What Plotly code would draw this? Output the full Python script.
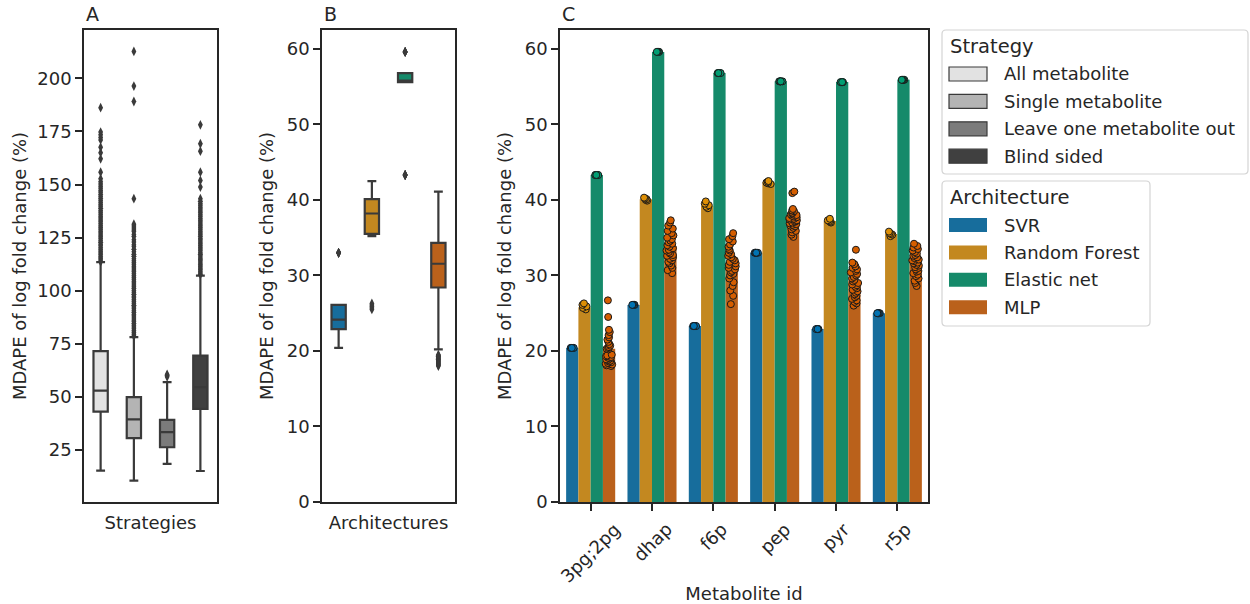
import plotly.graph_objects as go

# ---------------- data ----------------
strategies = ["All metabolite", "Single metabolite", "Leave one metabolite out", "Blind sided"]
strategy_colors = ["#E2E2E2", "#B4B4B4", "#7B7B7B", "#404040"]
strat_q1 = [43.0, 30.5, 26.2, 44.3]
strat_median = [52.9, 39.3, 33.3, 54.5]
strat_q3 = [71.5, 49.8, 39.1, 69.4]
strat_lowfence = [15.2, 10.5, 18.4, 15.0]
strat_highfence = [113.4, 78.1, 56.9, 107.1]
outliers_all = [113.6, 114.4, 115.2, 116.0, 116.9, 117.7, 118.5, 119.4, 120.2, 121.1, 121.9,
                122.8, 123.6, 124.5, 125.4, 126.2, 127.1, 128.0, 128.9, 129.7, 130.6, 131.5,
                132.4, 133.3, 134.2, 135.1, 136.0, 136.9, 137.8, 138.8, 139.7, 140.6, 141.5,
                142.5, 143.4, 144.4, 145.3, 146.3, 147.2, 148.2, 149.2, 150.2, 151.3, 152.7,
                155.8, 162.1, 165.0, 167.6, 171.0, 172.2, 173.4, 174.7, 186.2]
outliers_single = [78.6, 79.4, 80.3, 81.1, 82.0, 82.8, 83.7, 84.5, 85.4, 86.2, 87.1, 88.0,
                   88.8, 89.7, 90.5, 91.4, 92.3, 93.1, 94.0, 94.9, 95.7, 96.6, 97.4, 98.3,
                   99.2, 100.1, 101.0, 101.8, 102.7, 103.6, 104.4, 105.3, 106.2, 107.0, 108.0,
                   108.9, 109.7, 110.6, 111.5, 112.4, 113.2, 114.1, 115.0, 116.2, 117.1, 118.3,
                   119.5, 120.8, 121.6, 122.9, 124.0, 125.5, 126.4, 127.8, 128.6, 129.5, 130.4,
                   131.3, 143.3, 189.1, 196.4, 212.7]
outliers_loo = [59.4, 60.0, 60.5]
outliers_blind = [107.6, 108.3, 109.1, 109.9, 110.6, 111.5, 112.2, 113.0, 113.9, 114.7, 115.4,
                  116.3, 117.1, 117.9, 118.8, 119.6, 120.4, 121.3, 122.1, 122.9, 123.8, 124.6,
                  125.5, 126.3, 127.2, 128.0, 128.9, 129.7, 130.6, 131.4, 132.3, 133.2, 134.0,
                  134.9, 135.8, 136.7, 137.5, 138.4, 139.3, 140.2, 141.0, 142.1, 143.3, 148.8,
                  151.9, 155.8, 165.7, 169.2, 178.1]
strategy_outliers = [outliers_all, outliers_single, outliers_loo, outliers_blind]

metabolites = ["3pg;2pg", "dhap", "f6p", "pep", "pyr", "r5p"]
architectures = ["SVR", "Random Forest", "Elastic net", "MLP"]
bar_colors = ["#176D9C", "#C38820", "#158A6A", "#BA611B"]
point_colors = ["#0173B2", "#DE8F05", "#029E73", "#D55E00"]

svr_bar = [20.4, 26.1, 23.3, 33.0, 22.9, 25.0]
rf_bar = [25.8, 40.1, 39.2, 42.3, 37.2, 35.5]
en_bar = [43.3, 59.6, 56.8, 55.7, 55.6, 55.9]
mlp_bar = [20.3, 33.9, 31.5, 37.6, 29.3, 31.8]

svr_points = [
    [20.4, 20.4, 20.4, 20.4, 20.4],
    [26.1, 26.1, 26.1, 26.1, 26.1],
    [23.3, 23.3, 23.3, 23.3, 23.3],
    [33.0, 33.0, 33.0, 33.0, 33.0],
    [22.9, 22.9, 22.9, 22.9, 22.9],
    [25.0, 25.0, 25.0, 25.0, 25.0],
]
rf_points = [
    [25.5, 25.7, 25.9, 26.1, 26.3],
    [39.9, 40.0, 40.1, 40.2, 40.3],
    [38.9, 39.1, 39.3, 39.5, 39.8],
    [42.1, 42.2, 42.3, 42.4, 42.5],
    [37.0, 37.1, 37.2, 37.3, 37.5],
    [35.2, 35.4, 35.5, 35.6, 35.8],
]
en_points = [
    [43.3, 43.3, 43.3, 43.3, 43.3],
    [59.6, 59.6, 59.6, 59.6, 59.6],
    [56.8, 56.8, 56.8, 56.8, 56.8],
    [55.7, 55.7, 55.7, 55.7, 55.7],
    [55.6, 55.6, 55.6, 55.6, 55.6],
    [55.9, 55.9, 55.9, 55.9, 55.9],
]
mlp_points = [
    [26.7, 24.5, 22.8, 22.5, 22.1, 21.8, 21.5, 21.2, 20.9, 20.7, 20.5, 20.4, 20.3, 20.2, 19.5,
     19.4, 19.3, 19.2, 19.1, 19.0, 18.9, 18.8, 18.7, 18.6, 18.5, 18.4, 18.3, 18.2, 18.1, 18.0],
    [37.3, 37.0, 36.6, 36.2, 35.9, 35.6, 35.3, 35.0, 34.8, 34.6, 34.4, 34.2, 34.0, 33.8, 33.6,
     33.4, 33.3, 33.1, 32.9, 32.7, 32.6, 32.4, 32.2, 32.0, 31.8, 31.6, 31.3, 31.0, 30.7, 30.3],
    [35.6, 35.2, 34.8, 34.5, 34.1, 33.8, 33.5, 33.3, 33.0, 32.8, 32.6, 32.4, 32.2, 32.0, 31.8,
     31.6, 31.4, 31.2, 31.0, 30.8, 30.6, 30.4, 30.2, 30.0, 29.6, 29.1, 28.6, 28.0, 27.3, 26.2],
    [41.1, 40.9, 38.8, 38.6, 38.5, 38.3, 38.2, 38.1, 38.0, 37.9, 37.8, 37.7, 37.6, 37.5, 37.4,
     37.3, 37.2, 37.1, 37.0, 36.9, 36.8, 36.7, 36.6, 36.5, 36.3, 36.1, 35.9, 35.7, 35.4, 35.1],
    [33.4, 31.7, 31.5, 31.2, 31.0, 30.8, 30.6, 30.4, 30.2, 30.0, 29.8, 29.6, 29.4, 29.2, 29.0,
     28.8, 28.7, 28.5, 28.3, 28.1, 27.9, 27.7, 27.5, 27.3, 27.1, 26.9, 26.7, 26.5, 26.3, 26.0],
    [34.2, 33.9, 33.7, 33.5, 33.3, 33.1, 32.9, 32.7, 32.6, 32.4, 32.3, 32.1, 32.0, 31.9, 31.7,
     31.6, 31.4, 31.3, 31.1, 31.0, 30.8, 30.6, 30.5, 30.3, 30.1, 29.9, 29.6, 29.3, 29.0, 28.6],
]
arch_bars = [svr_bar, rf_bar, en_bar, mlp_bar]
arch_points = [svr_points, rf_points, en_points, mlp_points]
arch_jitter = [0.3, 0.4, 0.3, 0.65]

# ---------------- layout helpers ----------------
W, H = 1250, 604
FONT = "DejaVu Sans"
TXT = "#262626"
BOXLINE = "#3a3a3a"


def fx(p):
    return p / W


def fy(p):
    return 1 - p / H


fig = go.Figure()

# ---------------- panel A ----------------
for i, s in enumerate(strategies):
    fig.add_trace(go.Box(
        x=[s], q1=[strat_q1[i]], median=[strat_median[i]], q3=[strat_q3[i]],
        lowerfence=[strat_lowfence[i]], upperfence=[strat_highfence[i]],
        width=0.43, whiskerwidth=0.62, fillcolor=strategy_colors[i],
        line=dict(color=BOXLINE, width=2.2), boxpoints=False,
        offsetgroup="A", xaxis="x", yaxis="y", showlegend=False))
    outs = strategy_outliers[i]
    fig.add_trace(go.Scatter(
        x=[s] * len(outs), y=outs, mode="markers",
        marker=dict(symbol="diamond-tall", size=7, color=BOXLINE),
        xaxis="x", yaxis="y", showlegend=False))

# ---------------- panel B ----------------
for k, a in enumerate(architectures):
    ys = [v for grp in arch_points[k] for v in grp]
    fig.add_trace(go.Box(
        x=[a] * len(ys), y=ys, quartilemethod="linear",
        width=0.43, whiskerwidth=0.62, fillcolor=bar_colors[k],
        line=dict(color=BOXLINE, width=2.2), boxpoints="outliers", jitter=0, pointpos=0,
        marker=dict(symbol="diamond-tall", size=7, color=BOXLINE, line=dict(width=0)),
        offsetgroup="B", xaxis="x2", yaxis="y2", showlegend=False))

# ---------------- panel C ----------------
for k, a in enumerate(architectures):
    fig.add_trace(go.Bar(
        x=metabolites, y=arch_bars[k], marker=dict(color=bar_colors[k], line=dict(width=0)),
        offsetgroup=a, alignmentgroup="C", xaxis="x3", yaxis="y3", showlegend=False))
for k, a in enumerate(architectures):
    xs, ys = [], []
    for i, m in enumerate(metabolites):
        xs += [m] * len(arch_points[k][i])
        ys += arch_points[k][i]
    fig.add_trace(go.Box(
        x=xs, y=ys, boxpoints="all", jitter=arch_jitter[k], pointpos=0,
        fillcolor="rgba(0,0,0,0)", line=dict(width=0, color="rgba(0,0,0,0)"), whiskerwidth=0,
        marker=dict(color=point_colors[k], size=7, line=dict(color="#1a1a1a", width=1)),
        offsetgroup=a, alignmentgroup="C", xaxis="x3", yaxis="y3", showlegend=False))

ydom = [fy(502), fy(30)]
axis_common = dict(showline=True, mirror=True, linecolor=TXT, linewidth=1.6,
                   showgrid=False, zeroline=False, automargin=False,
                   tickfont=dict(family=FONT, size=18, color=TXT),
                   title_font=dict(family=FONT, size=18, color=TXT))
yaxis_common = dict(axis_common, ticks="outside", ticklen=7, tickwidth=1.6, tickcolor=TXT)

fig.update_layout(
    template="none",
    width=W, height=H, margin=dict(l=0, r=0, t=0, b=0, autoexpand=False),
    paper_bgcolor="white", plot_bgcolor="white",
    font=dict(family=FONT, size=18, color=TXT),
    barmode="group", bargap=0.2, bargroupgap=0,
    boxmode="group", boxgap=0.2, boxgroupgap=0,
    xaxis=dict(axis_common, domain=[fx(84), fx(217)], anchor="y", type="category",
               categoryorder="array", categoryarray=strategies, range=[-0.5, 3.5],
               showticklabels=False, ticks="", title=dict(text="Strategies", standoff=14)),
    yaxis=dict(yaxis_common, domain=ydom, anchor="x", range=[0.4, 222.8],
               tickvals=[25, 50, 75, 100, 125, 150, 175, 200],
               title=dict(text="MDAPE of log fold change (%)", standoff=6)),
    xaxis2=dict(axis_common, domain=[fx(322), fx(455)], anchor="y2", type="category",
                categoryorder="array", categoryarray=architectures, range=[-0.5, 3.5],
                showticklabels=False, ticks="", title=dict(text="Architectures", standoff=14)),
    yaxis2=dict(yaxis_common, domain=ydom, anchor="x2", range=[0, 62.5], dtick=10,
                title=dict(text="MDAPE of log fold change (%)", standoff=8)),
    xaxis3=dict(axis_common, domain=[fx(560), fx(928)], anchor="y3", type="category",
                categoryorder="array", categoryarray=metabolites, range=[-0.5, 5.5],
                ticks="outside", ticklen=7, tickwidth=1.6, tickcolor=TXT,
                showticklabels=False,
                title=dict(text="Metabolite id", standoff=80)),
    yaxis3=dict(yaxis_common, domain=ydom, anchor="x3", range=[0, 62.5], dtick=10,
                title=dict(text="MDAPE of log fold change (%)", standoff=8)),
)

# rotated, centred category labels for panel C (matplotlib-style rotation=45, ha=center)
for m in metabolites:
    fig.add_annotation(x=m, xref="x3", y=fy(516), yref="paper", text=m, textangle=-45,
                       showarrow=False, xanchor="center", yanchor="top",
                       font=dict(family=FONT, size=18, color=TXT))

# panel letters
for letter, px in [("A", 84), ("B", 322), ("C", 560)]:
    fig.add_annotation(x=fx(px), y=fy(14), xref="paper", yref="paper", text=letter,
                       showarrow=False, xanchor="left", yanchor="middle",
                       font=dict(family=FONT, size=19, color=TXT))


# ---------------- manual legends ----------------
def rounded_rect(x0, y0, x1, y1, r=4):
    p = (f"M {fx(x0 + r)},{fy(y0)} L {fx(x1 - r)},{fy(y0)} Q {fx(x1)},{fy(y0)} {fx(x1)},{fy(y0 + r)} "
         f"L {fx(x1)},{fy(y1 - r)} Q {fx(x1)},{fy(y1)} {fx(x1 - r)},{fy(y1)} "
         f"L {fx(x0 + r)},{fy(y1)} Q {fx(x0)},{fy(y1)} {fx(x0)},{fy(y1 - r)} "
         f"L {fx(x0)},{fy(y0 + r)} Q {fx(x0)},{fy(y0)} {fx(x0 + r)},{fy(y0)} Z")
    return dict(type="path", path=p, xref="paper", yref="paper",
                line=dict(color="#d4d4d4", width=1.2), fillcolor="white", layer="above")


def add_legend(title, labels, colors, edge, box, title_y, item_y0, step):
    fig.add_shape(rounded_rect(*box))
    fig.add_annotation(x=fx(948), y=fy(title_y), xref="paper", yref="paper", text=title,
                       showarrow=False, xanchor="left", yanchor="middle",
                       font=dict(family=FONT, size=19.5, color=TXT))
    for j, (lab, col) in enumerate(zip(labels, colors)):
        yc = item_y0 + j * step
        fig.add_shape(type="rect", xref="paper", yref="paper",
                      x0=fx(949), x1=fx(987), y0=fy(yc + 7), y1=fy(yc - 7),
                      fillcolor=col, layer="above",
                      line=dict(color=edge if edge else col, width=1.2 if edge else 0))
        fig.add_annotation(x=fx(1002), y=fy(yc), xref="paper", yref="paper", text=lab,
                           showarrow=False, xanchor="left", yanchor="middle",
                           font=dict(family=FONT, size=18, color=TXT))


add_legend("Strategy", strategies, strategy_colors, BOXLINE, (942, 30, 1248, 174), 46, 74, 27.4)
add_legend("Architecture", architectures, bar_colors, None, (942, 181, 1150, 326), 197, 225, 27.4)

fig.write_html(
    "out.html",
    config={"displayModeBar": False},
    post_script="document.body.style.margin='0px';document.body.style.overflow='hidden';",
)
